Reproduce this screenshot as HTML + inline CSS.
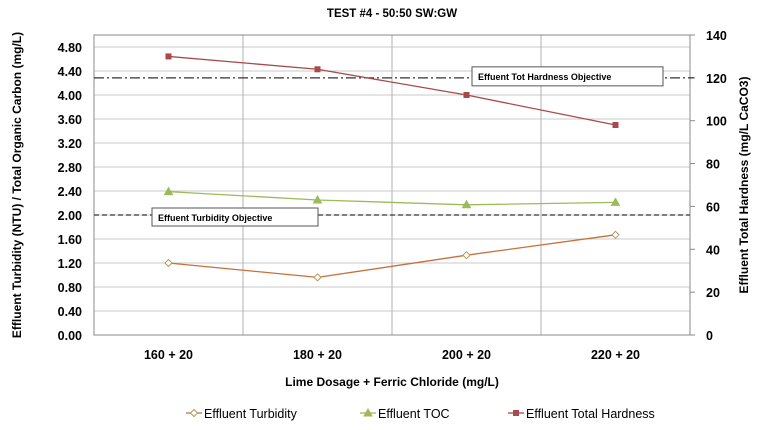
<!DOCTYPE html>
<html><head><meta charset="utf-8"><style>
body{margin:0;background:#fff;font-family:"Liberation Sans",sans-serif}
svg text{font-family:"Liberation Sans",sans-serif}
</style></head><body>
<svg id="chart" width="765" height="425" xmlns="http://www.w3.org/2000/svg">
<text x="392" y="17" font-size="11.5" font-weight="bold" text-anchor="middle">TEST #4 - 50:50 SW:GW</text>
<g id="grid"></g><g id="axes"></g><g id="series"></g>
<text x="392" y="386" font-size="12" font-weight="bold" text-anchor="middle">Lime Dosage + Ferric Chloride (mg/L)</text>
<text transform="translate(21,185) rotate(-90)" font-size="12" font-weight="bold" text-anchor="middle">Effluent Turbidity (NTU) / Total Organic Carbon (mg/L)</text>
<text transform="translate(748,185) rotate(-90)" font-size="12" font-weight="bold" text-anchor="middle">Effluent Total Hardness (mg/L CaCO3)</text>
<g id="legend"></g>
</svg>
<script>
const categories=["160 + 20","180 + 20","200 + 20","220 + 20"];
const turbidity=[1.20,0.96,1.33,1.67];
const toc=[2.39,2.25,2.17,2.21];
const hardness=[130,124,112,98];
const leftTicks=[0,0.4,0.8,1.2,1.6,2.0,2.4,2.8,3.2,3.6,4.0,4.4,4.8];
const rightTicks=[0,20,40,60,80,100,120,140];
const turbidityObjective=2.0;
const hardnessObjective=120;
const NS="http://www.w3.org/2000/svg";
const L=94,R=690,T=35,B=335;
const yL=v=>B-(v/5.0)*(B-T);
const yR=v=>B-(v/140)*(B-T);
const bw=(R-L)/categories.length;
const x=i=>L+bw*(i+0.5);
function mk(tag,attrs,parent){const e=document.createElementNS(NS,tag);for(const k in attrs)e.setAttribute(k,attrs[k]);document.getElementById(parent).appendChild(e);return e;}
// grid
leftTicks.forEach(v=>{const e=mk('line',{x1:L,x2:R,y1:yL(v),y2:yL(v),stroke:'#c8c8c8','stroke-width':1},'grid');


const t=mk('text',{x:L-12,y:yL(v)+5,'font-size':12.5,'font-weight':'bold','text-anchor':'end'},'axes');t.textContent=v.toFixed(2);

});
for(let i=1;i<categories.length;i++){const e=mk('line',{x1:L+bw*i,x2:L+bw*i,y1:T,y2:B,stroke:'#b0b0b0','stroke-width':1},'grid');

}
const f=mk('rect',{x:L,y:T,width:R-L,height:B-T,fill:'none',stroke:'#888','stroke-width':1},'grid');


rightTicks.forEach(v=>{const e=mk('line',{x1:R,x2:R+5,y1:yR(v),y2:yR(v),stroke:'#888'},'axes');


const t=mk('text',{x:R+16,y:yR(v)+5,'font-size':12.5,'font-weight':'bold'},'axes');t.textContent=v;

});
categories.forEach((c,i)=>{const t=mk('text',{x:x(i),y:359,'font-size':12.5,'font-weight':'bold','text-anchor':'middle'},'axes');t.textContent=c;

});
// objectives
let o=mk('line',{x1:L,x2:R+4,y1:yR(hardnessObjective),y2:yR(hardnessObjective),stroke:'#333','stroke-width':1.2,'stroke-dasharray':'10,3,2,3'},'series');


o=mk('line',{x1:L,x2:R,y1:yL(turbidityObjective),y2:yL(turbidityObjective),stroke:'#333','stroke-width':1.2,'stroke-dasharray':'5,3'},'series');


function box(bx,by,w,h,label,name){const r=mk('rect',{x:bx,y:by,width:w,height:h,fill:'#fff',stroke:'#555'},'series');


const t=mk('text',{x:bx+6,y:by+13,'font-size':9,'font-weight':'bold'},'series');t.textContent=label;

}
box(472,yR(hardnessObjective)-11,191,19,'Effuent Tot Hardness Objective','hardness-objective-label');
box(152,yL(turbidityObjective)-7,166,18,'Effuent Turbidity Objective','turbidity-objective-label');
function series(vals,yf,color,marker,mfill,name){
const p=mk('polyline',{points:vals.map((v,i)=>x(i)+','+yf(v)).join(' '),fill:'none',stroke:color,'stroke-width':1.3},'series');


vals.forEach((v,i)=>{const m=drawMarker(x(i),yf(v),marker,mfill,'series');

});}
function drawMarker(cx,cy,type,fill,parent){
if(type==='d')return mk('polygon',{points:`${cx},${cy-3.5} ${cx+3.5},${cy} ${cx},${cy+3.5} ${cx-3.5},${cy}`,fill:'#fff',stroke:fill,'stroke-width':1},parent);
if(type==='t')return mk('polygon',{points:`${cx},${cy-4} ${cx+4},${cy+3} ${cx-4},${cy+3}`,fill:fill,stroke:fill},parent);
return mk('rect',{x:cx-3,y:cy-3,width:6,height:6,fill:fill},parent);}
series(turbidity,yL,'#c8703a','d','#b09a60','turbidity');
series(toc,yL,'#9bbb59','t','#9bbb59','toc');
series(hardness,yR,'#a84a4c','s','#a84a4c','hardness');
// legend
const leg=[['Effluent Turbidity','#c8703a','d','#b09a60',186],['Effluent TOC','#9bbb59','t','#9bbb59',360],['Effluent Total Hardness','#a84a4c','s','#a84a4c',508]];
leg.forEach(([lab,c,m,mf,lx])=>{const l=mk('line',{x1:lx,x2:lx+16,y1:413,y2:413,stroke:c,'stroke-width':1.3},'legend');


drawMarker(lx+8,413,m,mf,'legend');
const t=mk('text',{x:lx+18,y:418,'font-size':12.5},'legend');t.textContent=lab;

});
</script>
</body></html>
